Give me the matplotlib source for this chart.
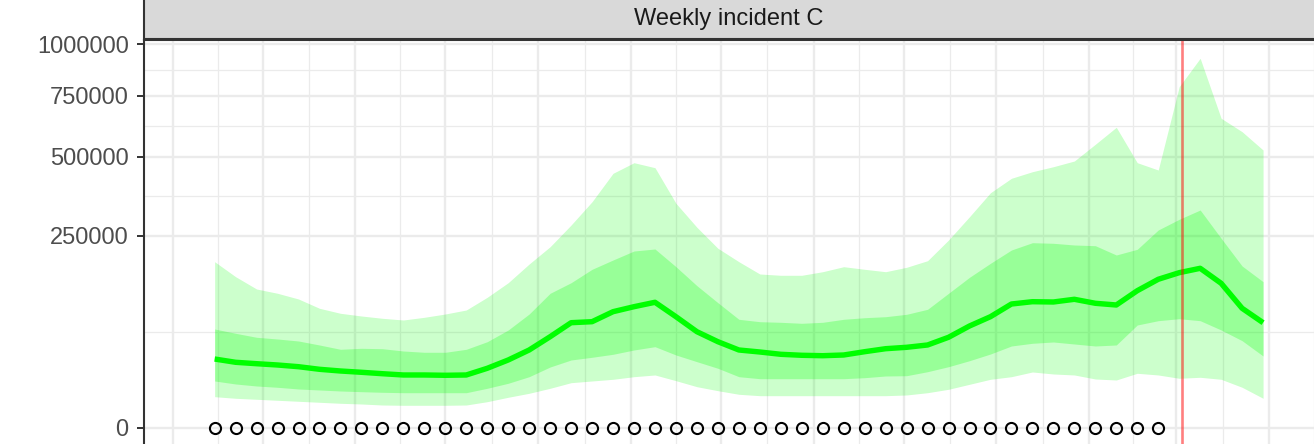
import numpy as np
import pandas as pd
import matplotlib
matplotlib.use("Agg")
import matplotlib.pyplot as plt
import matplotlib.dates as mdates
from matplotlib.patches import Rectangle

plt.rcParams['font.family'] = ['Liberation Sans', 'DejaVu Sans']

# weekly forecast dates and observed dates
dates = pd.date_range('2023-04-15', periods=51, freq='7D')
obs_dates = pd.date_range('2023-04-15', periods=46, freq='7D')
obs_vals = [0] * 46
forecast_date = pd.Timestamp('2024-03-03')

median = [32100, 29100, 27860, 26740, 25310, 23200, 21870, 20880, 19830, 18900,
          18900, 18680, 18900, 24000, 31180, 41080, 56320, 75000, 76440, 91550,
          99600, 106990, 83820, 62690, 50310, 41080, 38980, 36650, 35660, 35260,
          35950, 39290, 42450, 43970, 46530, 55600, 70370, 83820, 104080, 107990,
          107490, 112150, 105290, 102410, 127670, 149830, 163440, 172840, 141840, 96980,
          75000]
lo50 = [14840, 12990, 11830, 11100, 10190, 9670, 9160, 8820, 8520, 8330,
        8330, 8330, 8330, 10560, 13410, 17690, 25060, 31180, 33720, 36650,
        41080, 44640, 35950, 29630, 24000, 17690, 16330, 16330, 16330, 16330,
        16330, 17010, 18180, 18390, 21330, 25310, 30530, 36950, 45410, 48460,
        49960, 47650, 45410, 46530, 71750, 77880, 80820, 77880, 64930, 51490,
        34970]
hi50 = [66270, 60620, 55600, 53520, 51130, 46530, 41810, 42880, 42450, 40020,
        38680, 38680, 41810, 50310, 64930, 87940, 122890, 143020, 170680, 191320,
        212400, 217240, 176330, 137180, 106290, 79930, 76440, 75570, 74140, 75570,
        79930, 82300, 83820, 87480, 95360, 122890, 153870, 183860, 214820, 232820,
        231330, 227070, 225340, 202900, 216510, 265880, 295430, 322390, 244040, 177860,
        145010]
lo95 = [6540, 5880, 5490, 5110, 4740, 4390, 4050, 3820, 3500, 3410,
        3410, 3410, 3500, 4600, 6290, 8050, 10560, 13780, 14840, 15930,
        17690, 18900, 15030, 11430, 9310, 7590, 6970, 6970, 6970, 6970,
        6970, 6970, 6970, 7280, 8330, 10030, 12810, 15930, 17690, 21110,
        19620, 18900, 16130, 15480, 20130, 18900, 16600, 17280, 15930, 11100,
        5880]
hi95 = [187470, 155110, 130870, 122890, 112680, 96980, 89030, 84880, 81420, 78910,
        82910, 87940, 94230, 115680, 143020, 182300, 222870, 279500, 347490, 440240,
        477730, 459860, 342550, 273180, 218950, 187470, 160700, 158000, 158000, 165550,
        176330, 170680, 165550, 175030, 189740, 239690, 302850, 375670, 423150, 445810,
        463360, 483860, 546410, 613870, 477730, 451730, 791030, 928330, 651250, 595980,
        524610]

y_ticks = [0, 250000, 500000, 750000, 1000000]
y_labels = ['0', '250000', '500000', '750000', '1000000']
strip_title = 'Weekly incident C'


def fwd(v):
    v = np.asarray(v, dtype=float)
    return np.sign(v) * np.sqrt(np.abs(v))


def inv(s):
    s = np.asarray(s, dtype=float)
    return np.sign(s) * s ** 2


W, H = 1314, 444
fig = plt.figure(figsize=(W / 100, H / 100), dpi=100)
ax = fig.add_axes([144 / W, -2.4 / H, 1170 / W, 406.4 / H])

ax.fill_between(dates, lo95, hi95, color='#00ff00', alpha=0.2, lw=0)
ax.fill_between(dates, lo50, hi50, color='#00ff00', alpha=0.25, lw=0)
ax.plot(dates, median, color='#00ff00', lw=3.9, solid_capstyle='butt', solid_joinstyle='round')
ax.plot(obs_dates, obs_vals, 'o', mfc='none', mec='black', ms=8, mew=1.5, clip_on=False)
ax.axvline(forecast_date, color='red', alpha=0.5, lw=1.9)

ax.set_yscale('function', functions=(fwd, inv))
ax.set_yticks(y_ticks)
ax.set_yticklabels(y_labels)
ymid = [float(inv((fwd(a) + fwd(b)) / 2)) for a, b in zip(y_ticks[:-1], y_ticks[1:])]
ax.set_yticks(ymid, minor=True)
ax.set_ylim(-2380, 1022500)

months = pd.date_range('2023-03-01', '2024-06-01', freq='MS')
mnum = mdates.date2num(months)
ax.set_xticks(mnum)
ax.set_xticks((mnum[:-1] + mnum[1:]) / 2, minor=True)
x0 = mdates.date2num(pd.Timestamp('2023-04-01'))
ax.set_xlim(x0 - 9.58, x0 + 381.0)
ax.tick_params(axis='x', which='both', length=0, labelbottom=False)
ax.tick_params(axis='y', which='major', length=5, width=1.4, color='#333333',
               labelsize=17, labelcolor='#4d4d4d', pad=6)
ax.tick_params(axis='y', which='minor', length=0)

ax.set_axisbelow(True)
ax.grid(which='major', color='#ebebeb', lw=1.7)
ax.grid(which='minor', color='#ebebeb', lw=0.9)
for side in ['right', 'bottom']:
    ax.spines[side].set_visible(False)
for side in ['left', 'top']:
    ax.spines[side].set_color('#333333')
    ax.spines[side].set_linewidth(1.5)

# facet strip
strip = Rectangle((144 / W, (H - 39) / H), 1.2, 0.5, transform=fig.transFigure,
                  facecolor='#d9d9d9', edgecolor='#333333', lw=1.5, clip_on=False)
fig.patches.append(strip)
fig.text((144 + 1170 / 2) / W, (H - 25) / H, strip_title, ha='center', va='baseline',
         fontsize=17, color='#1a1a1a')

fig.savefig('out.png', dpi=100)
